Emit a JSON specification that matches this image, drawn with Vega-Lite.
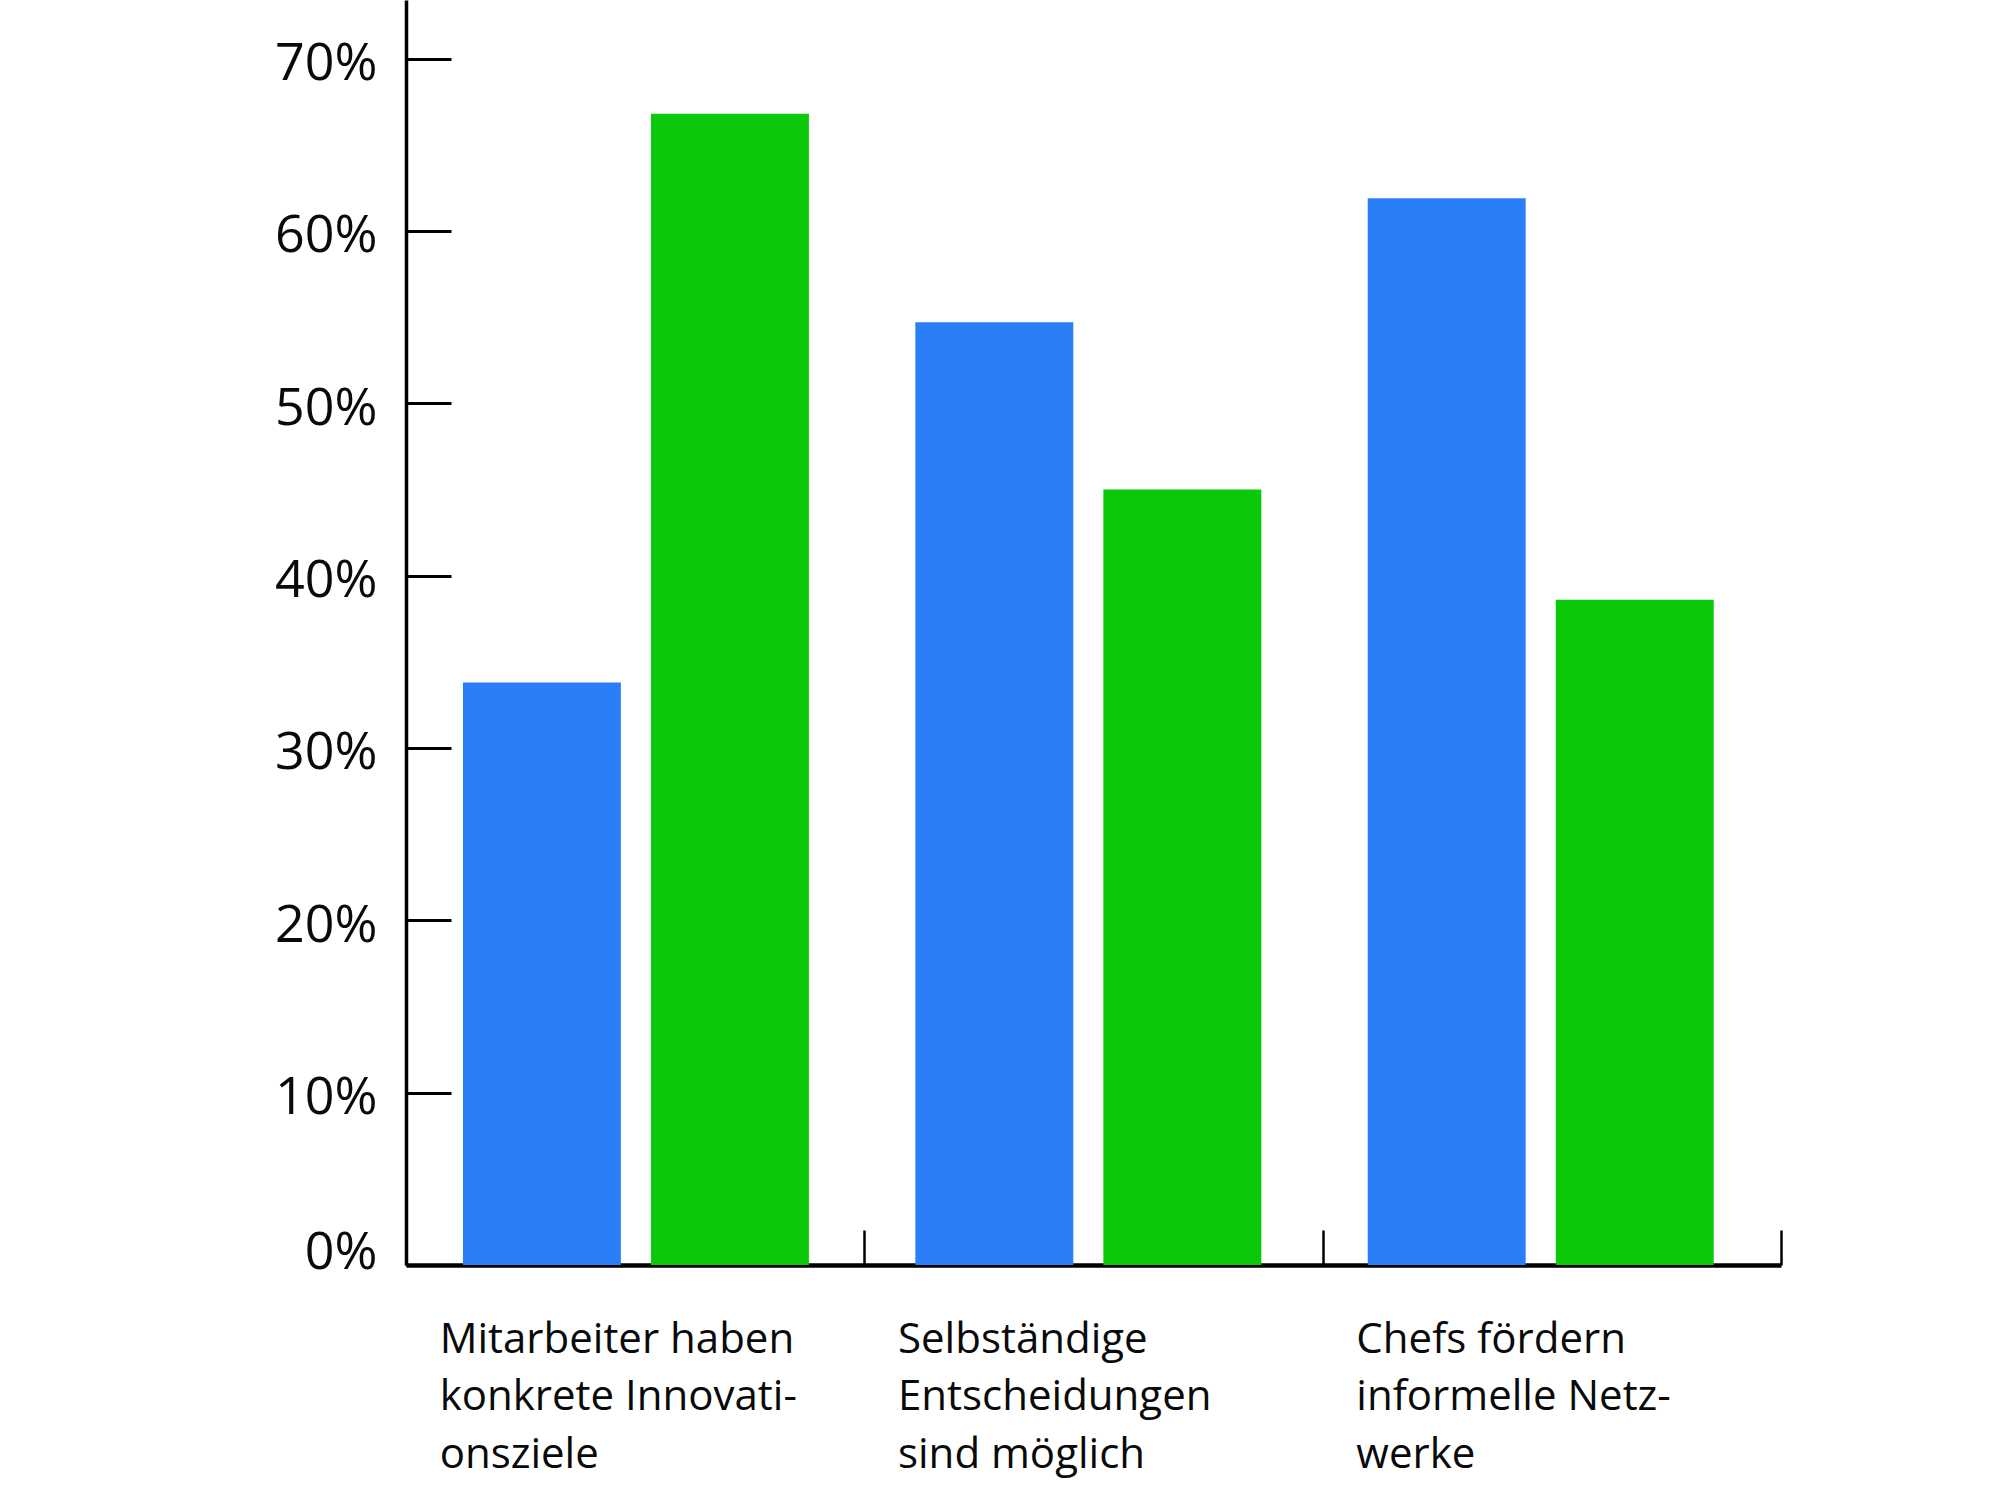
{
  "$schema": "https://vega.github.io/schema/vega-lite/v6.json",
  "width": 1375,
  "height": 1265,
  "autosize": "none",
  "padding": {"left": 406, "top": 0, "right": 219, "bottom": 235},
  "background": "white",
  "config": {"view": {"stroke": null}, "font": "Open Sans"},
  "data": {
    "values": [
      {"kategorie": "Mitarbeiter haben|konkrete Innovati-|onsziele", "gruppe": "Reihe 1", "wert": 33.8},
      {"kategorie": "Mitarbeiter haben|konkrete Innovati-|onsziele", "gruppe": "Reihe 2", "wert": 66.8},
      {"kategorie": "Selbständige|Entscheidungen|sind möglich", "gruppe": "Reihe 1", "wert": 54.7},
      {"kategorie": "Selbständige|Entscheidungen|sind möglich", "gruppe": "Reihe 2", "wert": 45.0},
      {"kategorie": "Chefs fördern|informelle Netz-|werke", "gruppe": "Reihe 1", "wert": 61.9},
      {"kategorie": "Chefs fördern|informelle Netz-|werke", "gruppe": "Reihe 2", "wert": 38.6}
    ]
  },
  "layer": [
    {
      "mark": {"type": "bar", "opacity": 0},
      "encoding": {
        "x": {
          "field": "kategorie",
          "type": "nominal",
          "sort": null,
          "scale": {"paddingInner": 0, "paddingOuter": 0},
          "axis": {
            "title": null,
            "grid": false,
            "domainColor": "#000000",
            "domainWidth": 4.5,
            "tickBand": "extent",
            "tickSize": -35,
            "tickWidth": 2.5,
            "tickColor": "#000000",
            "labelAngle": 0,
            "labelAlign": "left",
            "labelBaseline": "top",
            "labelOffset": -196,
            "labelPadding": 89,
            "labelFont": "Open Sans",
            "labelFontSize": 42,
            "labelLineHeight": 57.5,
            "labelColor": "#0a0a0a",
            "labelLimit": 0,
            "labelExpr": "split(datum.label, '|')"
          }
        },
        "y": {
          "field": "wert",
          "type": "quantitative",
          "scale": {"domain": [0, 73.4], "nice": false, "zero": true},
          "axis": {
            "title": null,
            "grid": false,
            "values": [0, 10, 20, 30, 40, 50, 60, 70],
            "labelExpr": "datum.value + '%'",
            "domainColor": "#000000",
            "domainWidth": 3.5,
            "tickSize": -45,
            "tickWidth": 3,
            "tickColor": "#000000",
            "labelPadding": 74,
            "labelFont": "Open Sans",
            "labelFontSize": 52,
            "labelColor": "#0a0a0a",
            "labelBaseline": "middle",
            "labelOffset": {"condition": {"test": "datum.value === 0", "value": -13}, "value": 5}
          }
        }
      }
    },
    {
      "mark": {"type": "bar"},
      "encoding": {
        "x": {
          "field": "kategorie",
          "type": "nominal",
          "sort": null,
          "scale": {"paddingInner": 0, "paddingOuter": 0.0197, "align": 0.21},
          "axis": null
        },
        "xOffset": {
          "field": "gruppe",
          "type": "nominal",
          "scale": {"paddingInner": 0.16, "paddingOuter": 0.283}
        },
        "y": {
          "field": "wert",
          "type": "quantitative"
        },
        "color": {
          "field": "gruppe",
          "type": "nominal",
          "scale": {"range": ["#2a7ff8", "#0cc80a"]},
          "legend": null
        }
      }
    }
  ],
  "resolve": {"scale": {"x": "independent"}, "axis": {"x": "independent"}}
}
